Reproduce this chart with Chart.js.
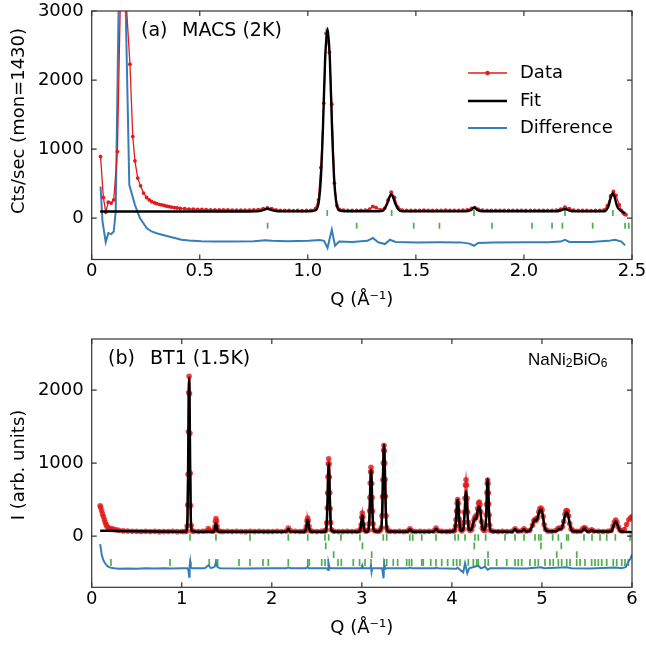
<!DOCTYPE html>
<html>
<head>
<meta charset="utf-8">
<script src="https://cdn.jsdelivr.net/npm/chart.js@4.4.0/dist/chart.umd.min.js"></script>
<style>
  html, body { margin: 0; padding: 0; background: #fff; }
  canvas { display: block; }
</style>
</head>
<body>
<canvas id="macs" width="646" height="323"></canvas>
<canvas id="bt1" width="646" height="323"></canvas>
<script>
// ---- (a) MACS, 2K ----
const xTicksA = [0, 0.5, 1.0, 1.5, 2.0, 2.5];
const yTicksA = [0, 1000, 2000, 3000];

const qA = [
  0.041, 0.054, 0.065, 0.077, 0.090, 0.102, 0.119, 0.139, 0.177, 0.190,
  0.200, 0.213, 0.226, 0.240, 0.254, 0.266, 0.277, 0.290, 0.300, 0.312,
  0.323, 0.335, 0.347, 0.358, 0.369, 0.382, 0.395, 0.410, 0.430, 0.450,
  0.470, 0.490, 0.510, 0.530, 0.550, 0.570, 0.590, 0.610, 0.630, 0.650,
  0.670, 0.690, 0.710, 0.730, 0.750, 0.770, 0.793, 0.813, 0.833, 0.853,
  0.873, 0.893, 0.913, 0.933, 0.953, 0.973, 0.994, 1.014, 1.035, 1.049,
  1.060, 1.074, 1.085, 1.100, 1.111, 1.123, 1.135, 1.147, 1.165, 1.185,
  1.205, 1.226, 1.246, 1.266, 1.286, 1.301, 1.316, 1.336, 1.356, 1.371,
  1.386, 1.401, 1.416, 1.437, 1.457, 1.477, 1.497, 1.517, 1.537, 1.557,
  1.577, 1.597, 1.617, 1.638, 1.658, 1.678, 1.698, 1.718, 1.738, 1.758,
  1.773, 1.788, 1.808, 1.829, 1.849, 1.869, 1.889, 1.909, 1.929, 1.949,
  1.969, 1.989, 2.009, 2.030, 2.050, 2.070, 2.090, 2.110, 2.130, 2.150,
  2.170, 2.190, 2.210, 2.230, 2.251, 2.271, 2.291, 2.311, 2.331, 2.351,
  2.371, 2.386, 2.401, 2.414, 2.426, 2.441, 2.451, 2.459, 2.466, 2.472
];
const dataA = [
  891, 298, 87, 231, 217, 265, 964, 4190, 2229, 1181,
  829, 579, 467, 362, 298, 265, 240, 222, 210, 200,
  192, 182, 172, 165, 159, 152, 146, 140, 135, 131,
  128, 126, 124, 122, 120, 119, 118, 117, 118, 116,
  115, 116, 114, 115, 117, 122, 135, 148, 138, 120,
  112, 110, 111, 109, 110, 108, 110, 112, 135, 265,
  732, 1664, 2677, 2402, 1650, 506, 180, 125, 115, 112,
  110, 113, 112, 115, 130, 168, 150, 118, 145, 260,
  376, 300, 160, 115, 112, 110, 113, 111, 114, 112,
  110, 113, 112, 114, 111, 113, 112, 114, 118, 140,
  152, 130, 115, 112, 110, 113, 111, 112, 110, 113,
  111, 112, 110, 113, 111, 112, 110, 113, 112, 115,
  130, 159, 135, 115, 112, 110, 111, 109, 110, 112,
  120, 180, 320, 385, 330, 190, 110, 72, 55, 48
];

const qFitA = [
  0.039, 0.700, 0.763, 0.793, 0.813, 0.833, 0.863, 1.004, 1.034, 1.050,
  1.060, 1.070, 1.080, 1.091, 1.102, 1.112, 1.122, 1.132, 1.145, 1.175,
  1.306, 1.346, 1.366, 1.376, 1.386, 1.396, 1.406, 1.426, 1.457, 1.728,
  1.754, 1.770, 1.786, 1.809, 2.150, 2.175, 2.190, 2.205, 2.230, 2.371,
  2.391, 2.401, 2.411, 2.421, 2.431, 2.451, 2.469
];
const fitA = [
  95, 95, 97, 115, 135, 115, 97, 97, 110, 220,
  560, 1300, 2300, 2750, 2300, 1300, 560, 220, 110, 98,
  98, 105, 200, 290, 347, 290, 200, 105, 97, 97,
  115, 153, 115, 98, 98, 115, 130, 115, 97, 97,
  170, 290, 362, 290, 170, 100, 72
];

const qDiffA = [
  0.041, 0.050, 0.065, 0.077, 0.090, 0.102, 0.111, 0.138, 0.174, 0.200,
  0.223, 0.254, 0.277, 0.300, 0.338, 0.380, 0.415, 0.450, 0.507, 0.569,
  0.650, 0.750, 0.803, 0.833, 0.904, 1.004, 1.055, 1.075, 1.091, 1.101,
  1.111, 1.126, 1.145, 1.205, 1.276, 1.301, 1.326, 1.357, 1.380, 1.406,
  1.507, 1.607, 1.708, 1.748, 1.769, 1.788, 1.858, 2.009, 2.110, 2.170,
  2.190, 2.210, 2.311, 2.391, 2.421, 2.451, 2.468
];
const diffA = [
  457, -49, -347, -217, -232, -194, 96, 6000, 482, 192,
  0, -145, -194, -220, -252, -285, -314, -325, -335, -340,
  -338, -336, -322, -330, -335, -330, -318, -330, -434, -300,
  -169, -400, -340, -345, -330, -289, -350, -376, -314, -345,
  -352, -350, -352, -370, -401, -360, -352, -350, -350, -340,
  -314, -345, -348, -330, -314, -340, -396
];

// reflection markers, two phases
const braggA1 = [1.090, 1.388, 1.769, 2.190, 2.411];
const braggA2 = [0.814, 1.226, 1.490, 1.609, 1.852, 2.037, 2.130, 2.178, 2.318, 2.468, 2.485];

// ---- (b) BT1, 1.5K ----
const xTicksB = [0, 1, 2, 3, 4, 5, 6];
const yTicksB = [0, 1000, 2000];

const qB = [
  0.094, 0.100, 0.110, 0.120, 0.130, 0.140, 0.150, 0.160, 0.170, 0.185,
  0.200, 0.220, 0.240, 0.270, 0.300, 0.350, 0.400, 0.450, 0.500, 0.550,
  0.600, 0.650, 0.700, 0.750, 0.800, 0.850, 0.900, 0.950, 1.000, 1.030,
  1.052, 1.060, 1.066, 1.070, 1.074, 1.078, 1.082, 1.086, 1.090, 1.094,
  1.098, 1.104, 1.112, 1.135, 1.185, 1.235, 1.275, 1.295, 1.315, 1.345,
  1.360, 1.368, 1.374, 1.380, 1.386, 1.392, 1.400, 1.425, 1.460, 1.510,
  1.560, 1.610, 1.660, 1.710, 1.760, 1.810, 1.860, 1.910, 1.960, 2.010,
  2.060, 2.110, 2.160, 2.184, 2.210, 2.260, 2.310, 2.350, 2.373, 2.383,
  2.391, 2.398, 2.405, 2.413, 2.423, 2.450, 2.500, 2.550, 2.587, 2.602,
  2.610, 2.616, 2.620, 2.624, 2.628, 2.632, 2.636, 2.640, 2.644, 2.648,
  2.654, 2.662, 2.690, 2.740, 2.790, 2.840, 2.890, 2.940, 2.975, 2.985,
  2.993, 2.999, 3.005, 3.011, 3.017, 3.025, 3.045, 3.072, 3.080, 3.086,
  3.090, 3.094, 3.098, 3.102, 3.106, 3.110, 3.114, 3.118, 3.124, 3.132,
  3.155, 3.185, 3.206, 3.216, 3.224, 3.230, 3.234, 3.238, 3.242, 3.246,
  3.250, 3.254, 3.258, 3.262, 3.268, 3.276, 3.286, 3.316, 3.366, 3.416,
  3.466, 3.507, 3.534, 3.557, 3.597, 3.647, 3.697, 3.747, 3.799, 3.824,
  3.849, 3.889, 3.939, 3.979, 4.020, 4.032, 4.040, 4.046, 4.052, 4.058,
  4.064, 4.070, 4.076, 4.082, 4.088, 4.096, 4.110, 4.124, 4.132, 4.138,
  4.145, 4.151, 4.157, 4.163, 4.169, 4.175, 4.181, 4.189, 4.201, 4.221,
  4.236, 4.246, 4.256, 4.266, 4.276, 4.286, 4.296, 4.304, 4.312, 4.320,
  4.328, 4.338, 4.351, 4.367, 4.375, 4.381, 4.385, 4.389, 4.393, 4.397,
  4.401, 4.405, 4.409, 4.413, 4.419, 4.427, 4.462, 4.512, 4.562, 4.612,
  4.664, 4.701, 4.734, 4.774, 4.800, 4.824, 4.865, 4.895, 4.910, 4.923,
  4.935, 4.950, 4.965, 4.977, 4.989, 5.001, 5.013, 5.025, 5.040, 5.065,
  5.106, 5.146, 5.176, 5.192, 5.206, 5.227, 5.242, 5.257, 5.267, 5.275,
  5.283, 5.295, 5.309, 5.324, 5.347, 5.388, 5.428, 5.453, 5.471, 5.488,
  5.518, 5.552, 5.578, 5.629, 5.679, 5.730, 5.770, 5.790, 5.805, 5.819,
  5.833, 5.848, 5.865, 5.890, 5.915, 5.940, 5.965, 5.985, 5.998
];
const dataB = [
  416, 395, 350, 305, 270, 228, 190, 160, 132, 115,
  105, 100, 96, 88, 80, 72, 70, 66, 68, 64,
  67, 63, 66, 62, 65, 63, 66, 62, 64, 65,
  69, 139, 426, 847, 1429, 1967, 2190, 1950, 1410, 860,
  420, 145, 72, 66, 64, 67, 70, 105, 72, 68,
  80, 130, 200, 242, 205, 135, 82, 66, 64, 67,
  63, 66, 65, 62, 66, 64, 67, 63, 65, 64,
  66, 63, 70, 110, 72, 66, 64, 68, 75, 130,
  210, 247, 212, 135, 76, 66, 64, 67, 72, 84,
  182, 385, 591, 814, 992, 1060, 990, 810, 595, 380,
  185, 86, 68, 65, 64, 66, 63, 67, 75, 95,
  155, 260, 316, 265, 160, 92, 68, 82, 169, 348,
  529, 726, 883, 943, 880, 720, 530, 345, 170, 84,
  70, 68, 80, 114, 278, 541, 772, 1003, 1175, 1240,
  1170, 1000, 775, 545, 280, 115, 72, 66, 64, 67,
  65, 70, 100, 72, 65, 66, 64, 67, 72, 110,
  74, 66, 65, 66, 70, 85, 140, 226, 345, 454,
  500, 450, 340, 230, 145, 90, 75, 96, 186, 326,
  520, 699, 773, 700, 520, 330, 190, 100, 80, 90,
  150, 220, 262, 250, 290, 380, 450, 467, 430, 330,
  200, 110, 85, 79, 148, 292, 438, 596, 722, 770,
  720, 590, 440, 290, 150, 80, 67, 64, 66, 63,
  68, 100, 70, 75, 100, 72, 80, 150, 210, 230,
  215, 250, 330, 375, 385, 360, 270, 160, 95, 72,
  68, 75, 100, 110, 105, 130, 200, 300, 345, 352,
  340, 280, 170, 100, 72, 66, 70, 100, 118, 100,
  72, 87, 70, 66, 64, 67, 80, 140, 195, 220,
  190, 130, 85, 70, 90, 160, 224, 250, 265
];

const qFitB = [
  0.094, 0.300, 0.700, 1.044, 1.054, 1.064, 1.070, 1.076, 1.082, 1.088,
  1.094, 1.100, 1.110, 1.155, 1.345, 1.355, 1.365, 1.372, 1.380, 1.388,
  1.395, 1.405, 1.455, 2.150, 2.165, 2.184, 2.203, 2.361, 2.368, 2.380,
  2.386, 2.392, 2.398, 2.404, 2.410, 2.416, 2.428, 2.592, 2.602, 2.614,
  2.620, 2.626, 2.632, 2.638, 2.644, 2.650, 2.662, 2.713, 2.965, 2.975,
  2.987, 2.993, 2.999, 3.005, 3.011, 3.017, 3.023, 3.035, 3.065, 3.072,
  3.084, 3.090, 3.096, 3.102, 3.108, 3.114, 3.120, 3.132, 3.176, 3.216,
  3.228, 3.234, 3.240, 3.246, 3.252, 3.258, 3.264, 3.276, 3.296, 3.507,
  3.534, 3.562, 3.799, 3.824, 3.849, 4.010, 4.034, 4.046, 4.052, 4.058,
  4.064, 4.070, 4.076, 4.082, 4.094, 4.110, 4.127, 4.139, 4.145, 4.151,
  4.157, 4.163, 4.169, 4.175, 4.187, 4.211, 4.231, 4.246, 4.256, 4.266,
  4.276, 4.286, 4.296, 4.304, 4.312, 4.320, 4.328, 4.338, 4.356, 4.367,
  4.379, 4.385, 4.391, 4.397, 4.403, 4.409, 4.415, 4.427, 4.462, 4.674,
  4.701, 4.724, 4.774, 4.800, 4.824, 4.865, 4.895, 4.910, 4.923, 4.935,
  4.950, 4.965, 4.977, 4.989, 5.001, 5.013, 5.025, 5.040, 5.065, 5.156,
  5.192, 5.216, 5.236, 5.251, 5.266, 5.275, 5.283, 5.297, 5.312, 5.327,
  5.357, 5.443, 5.471, 5.498, 5.528, 5.552, 5.578, 5.770, 5.790, 5.805,
  5.819, 5.833, 5.848, 5.870, 5.900, 6.000
];
const fitB = [
  75, 70, 64, 62, 71, 285, 838, 1704, 2170, 1704,
  838, 285, 71, 62, 62, 63, 85, 140, 178, 140,
  85, 63, 62, 62, 65, 100, 65, 62, 65, 100,
  148, 200, 224, 200, 148, 100, 65, 62, 79, 283,
  555, 857, 995, 857, 555, 283, 79, 62, 62, 66,
  114, 179, 250, 283, 250, 179, 114, 66, 62, 77,
  263, 510, 785, 911, 785, 510, 263, 77, 63, 111,
  441, 778, 1111, 1254, 1111, 778, 441, 111, 64, 62,
  90, 62, 62, 100, 62, 63, 90, 223, 343, 453,
  499, 453, 343, 223, 90, 75, 97, 265, 416, 555,
  613, 555, 416, 265, 97, 85, 150, 225, 247, 235,
  270, 350, 400, 407, 380, 300, 200, 115, 85, 95,
  234, 443, 676, 783, 676, 443, 234, 80, 64, 62,
  100, 64, 66, 95, 64, 75, 150, 205, 224, 210,
  240, 310, 352, 361, 335, 250, 150, 90, 66, 66,
  100, 100, 170, 260, 315, 324, 315, 250, 150, 90,
  63, 65, 110, 65, 63, 85, 63, 65, 120, 175,
  201, 175, 120, 70, 60, 55
];

const qDiffB = [
  0.094, 0.112, 0.130, 0.149, 0.175, 0.204, 0.250, 0.300, 0.400, 0.500,
  0.600, 0.700, 0.800, 0.900, 1.000, 1.064, 1.076, 1.082, 1.088, 1.094,
  1.100, 1.114, 1.255, 1.295, 1.325, 1.365, 1.380, 1.395, 1.425, 1.700,
  2.000, 2.160, 2.184, 2.210, 2.381, 2.398, 2.411, 2.612, 2.626, 2.632,
  2.640, 2.652, 2.995, 3.005, 3.015, 3.095, 3.100, 3.108, 3.115, 3.226,
  3.241, 3.248, 3.256, 3.276, 3.517, 3.534, 3.557, 3.819, 3.824, 3.849,
  4.050, 4.064, 4.080, 4.126, 4.146, 4.171, 4.191, 4.292, 4.322, 4.368,
  4.397, 4.422, 4.624, 4.824, 4.989, 5.025, 5.275, 5.327, 5.528, 5.819,
  5.880, 5.930, 5.960, 5.985, 6.000
];
const diffB = [
  -110, -257, -330, -371, -410, -431, -440, -445, -442, -445,
  -440, -443, -440, -442, -440, -438, -480, -555, -400, -349,
  -420, -440, -440, -400, -438, -420, -360, -420, -440, -443,
  -440, -440, -430, -440, -440, -418, -440, -440, -463, -385,
  -430, -440, -440, -400, -440, -440, -385, -486, -440, -440,
  -577, -394, -450, -440, -440, -430, -440, -440, -430, -440,
  -445, -430, -450, -495, -371, -508, -440, -404, -440, -418,
  -460, -440, -440, -442, -426, -440, -425, -440, -442, -430,
  -440, -425, -350, -302, -250
];

// reflection markers, four rows
const braggB1 = [1.092, 1.380, 1.758, 2.183, 2.399, 2.591, 2.632, 2.768, 2.979, 3.238,
  3.276, 3.532, 3.565, 3.665, 3.823, 4.034, 4.071, 4.146, 4.256, 4.293, 4.375, 4.590,
  4.701, 4.801, 4.923, 4.965, 4.989, 5.119, 5.182, 5.275, 5.293, 5.467, 5.556, 5.645,
  5.719, 5.815, 5.978];
const braggB2 = [2.599, 3.007, 4.249, 4.989, 5.215];
const braggB3 = [2.687, 3.109, 4.401, 5.164, 5.386];
const braggB4 = [0.214, 0.870, 1.092, 1.305, 1.380, 1.399, 1.636, 1.758, 1.902, 1.961,
  2.183, 2.399, 2.416, 2.554, 2.591, 2.627, 2.735, 2.772, 2.905, 2.975, 3.035, 3.102,
  3.248, 3.276, 3.349, 3.398, 3.498, 3.527, 3.554, 3.665, 3.682, 3.765, 3.823, 3.887,
  3.953, 4.016, 4.053, 4.090, 4.182, 4.238, 4.275, 4.293, 4.368, 4.404, 4.497, 4.609,
  4.701, 4.737, 4.775, 4.867, 4.923, 4.960, 5.034, 5.089, 5.126, 5.182, 5.219, 5.275,
  5.312, 5.386, 5.423, 5.478, 5.552, 5.589, 5.626, 5.664, 5.719, 5.792, 5.830, 5.886,
  5.922, 5.959];

const RED = '#e41a1c';
const BLUE = '#377eb8';
const GREEN = '#4daf4a';

Chart.defaults.font.family = "'DejaVu Sans', sans-serif";
Chart.defaults.font.size = 18;
Chart.defaults.color = '#000';
Chart.defaults.animation = false;

function pts(xs, ys) {
  return xs.map((x, i) => ({ x: x, y: ys[i] }));
}
function row(xs, level) {
  return xs.map(x => ({ x: x, y: level }));
}

function markerSet(xs, level, r) {
  return {
    data: row(xs, level),
    showLine: false,
    pointStyle: 'line',
    pointRotation: 90,
    pointRadius: r,
    pointBorderColor: GREEN,
    pointBorderWidth: 1.7,
    clip: 0
  };
}

// closed frame with inward ticks on all four sides
const boxTicks = {
  id: 'boxTicks',
  afterDatasetsDraw(chart) {
    const { ctx, chartArea: { left, right, top, bottom }, scales: { x, y } } = chart;
    ctx.save();
    ctx.strokeStyle = '#333';
    ctx.lineWidth = 1.2;
    ctx.beginPath();
    x.ticks.forEach(t => {
      const px = x.getPixelForValue(t.value);
      ctx.moveTo(px, bottom); ctx.lineTo(px, bottom - 5);
      ctx.moveTo(px, top); ctx.lineTo(px, top + 5);
    });
    y.ticks.forEach(t => {
      const py = y.getPixelForValue(t.value);
      ctx.moveTo(left, py); ctx.lineTo(left + 5, py);
      ctx.moveTo(right, py); ctx.lineTo(right - 5, py);
    });
    ctx.stroke();
    ctx.strokeRect(left, top, right - left, bottom - top);
    ctx.restore();
  }
};

function axisTitles(ctx, chart, yTitle, yCenter, xCenterY) {
  ctx.fillStyle = '#000';
  ctx.font = "18px 'DejaVu Sans'";
  ctx.textAlign = 'center';
  ctx.textBaseline = 'middle';
  const a = chart.chartArea;
  ctx.fillText('Q (Å⁻¹)', (a.left + a.right) / 2, xCenterY);
  ctx.save();
  ctx.translate(19, yCenter);
  ctx.rotate(-Math.PI / 2);
  ctx.fillText(yTitle, 0, 0);
  ctx.restore();
}

function scalesFor(xMin, xMax, xTicks, yMin, yMax, yTicks, xFmt, xHeight) {
  return {
    x: {
      type: 'linear', min: xMin, max: xMax,
      afterBuildTicks: s => { s.ticks = xTicks.map(v => ({ value: v })); },
      afterFit: s => { s.height = xHeight; s.paddingLeft = 0; s.paddingRight = 0; },
      ticks: { padding: 1, maxRotation: 0, autoSkip: false, callback: xFmt },
      grid: { display: false, drawTicks: false },
      border: { display: false }
    },
    y: {
      type: 'linear', min: yMin, max: yMax,
      afterBuildTicks: s => { s.ticks = yTicks.map(v => ({ value: v })); },
      afterFit: s => { s.width = 91.7; s.paddingTop = 0; s.paddingBottom = 0; },
      ticks: { padding: 8, callback: v => String(v) },
      grid: { display: false, drawTicks: false },
      border: { display: false }
    }
  };
}

// panel (a)
new Chart(document.getElementById('macs'), {
  type: 'line',
  data: {
    datasets: [
      { data: pts(qFitA, fitA), borderColor: '#000', borderWidth: 2.4, pointRadius: 0,
        cubicInterpolationMode: 'monotone', clip: 0 },
      { data: pts(qA, dataA), borderColor: RED, borderWidth: 1.3, pointRadius: 1.9,
        pointBackgroundColor: RED, pointBorderWidth: 0, clip: 0 },
      { data: pts(qDiffA, diffA), borderColor: BLUE, borderWidth: 2, pointRadius: 0, clip: 0 },
      markerSet(braggA1, 75, 3),
      markerSet(braggA2, -110, 3)
    ]
  },
  options: {
    responsive: false,
    events: [],
    layout: { padding: { left: 0, right: 14, top: 11, bottom: 0 } },
    plugins: { legend: { display: false }, tooltip: { enabled: false } },
    scales: scalesFor(0, 2.5, xTicksA, -600, 3000, yTicksA,
      v => (v === 0 ? '0' : v.toFixed(1)), 63.5)
  },
  plugins: [boxTicks, {
    id: 'macsText',
    afterDraw(chart) {
      const ctx = chart.ctx;
      ctx.save();
      axisTitles(ctx, chart, 'Cts/sec (mon=1430)', 121, 300);
      ctx.textAlign = 'left';
      ctx.font = "19px 'DejaVu Sans'";
      ctx.fillText('(a)', 141, 31);
      ctx.fillText('MACS (2K)', 182, 31);
      // legend
      ctx.font = "18px 'DejaVu Sans'";
      const items = [['Data', RED, 1.3, 73], ['Fit', '#000', 2.4, 101], ['Difference', BLUE, 2, 128]];
      items.forEach(([label, color, w, yy]) => {
        ctx.strokeStyle = color;
        ctx.lineWidth = w;
        ctx.beginPath();
        ctx.moveTo(468, yy); ctx.lineTo(507, yy);
        ctx.stroke();
        ctx.fillStyle = '#000';
        ctx.fillText(label, 520, yy);
      });
      ctx.fillStyle = RED;
      ctx.beginPath();
      ctx.arc(487.5, 73, 2.2, 0, Math.PI * 2);
      ctx.fill();
      ctx.restore();
    }
  }]
});

// panel (b)
new Chart(document.getElementById('bt1'), {
  type: 'line',
  data: {
    datasets: [
      { data: pts(qFitB, fitB), borderColor: '#000', borderWidth: 2.5, pointRadius: 0,
        cubicInterpolationMode: 'monotone', clip: 0 },
      { data: pts(qB, dataB), borderColor: 'rgba(228,26,28,0.85)', borderWidth: 2,
        pointRadius: 2.8, pointBackgroundColor: 'rgba(228,26,28,0.8)', pointBorderWidth: 0, clip: 0 },
      { data: pts(qDiffB, diffB), borderColor: BLUE, borderWidth: 2, pointRadius: 0, clip: 0 },
      markerSet(braggB1, -18, 3.3),
      markerSet(braggB2, -133, 3.3),
      markerSet(braggB3, -253, 3.3),
      markerSet(braggB4, -362, 3.5)
    ]
  },
  options: {
    responsive: false,
    events: [],
    layout: { padding: { left: 0, right: 14, top: 16, bottom: 0 } },
    plugins: { legend: { display: false }, tooltip: { enabled: false } },
    scales: scalesFor(0, 6, xTicksB, -700, 2700, yTicksB, v => String(v), 58.7)
  },
  plugins: [boxTicks, {
    id: 'bt1Text',
    afterDraw(chart) {
      const ctx = chart.ctx;
      ctx.save();
      axisTitles(ctx, chart, 'I (arb. units)', 142, 305);
      ctx.textAlign = 'left';
      ctx.font = "19px 'DejaVu Sans'";
      ctx.fillText('(b)', 108, 36);
      ctx.fillText('BT1 (1.5K)', 150, 36);
      // chemical formula with subscripts
      const parts = [['NaNi', false], ['2', true], ['BiO', false], ['6', true]];
      let x = 528;
      parts.forEach(([s, sub]) => {
        ctx.font = sub ? "12px 'Liberation Sans'" : "17px 'Liberation Sans'";
        ctx.fillText(s, x, sub ? 41 : 37);
        x += ctx.measureText(s).width;
      });
      ctx.restore();
    }
  }]
});
</script>
</body>
</html>
